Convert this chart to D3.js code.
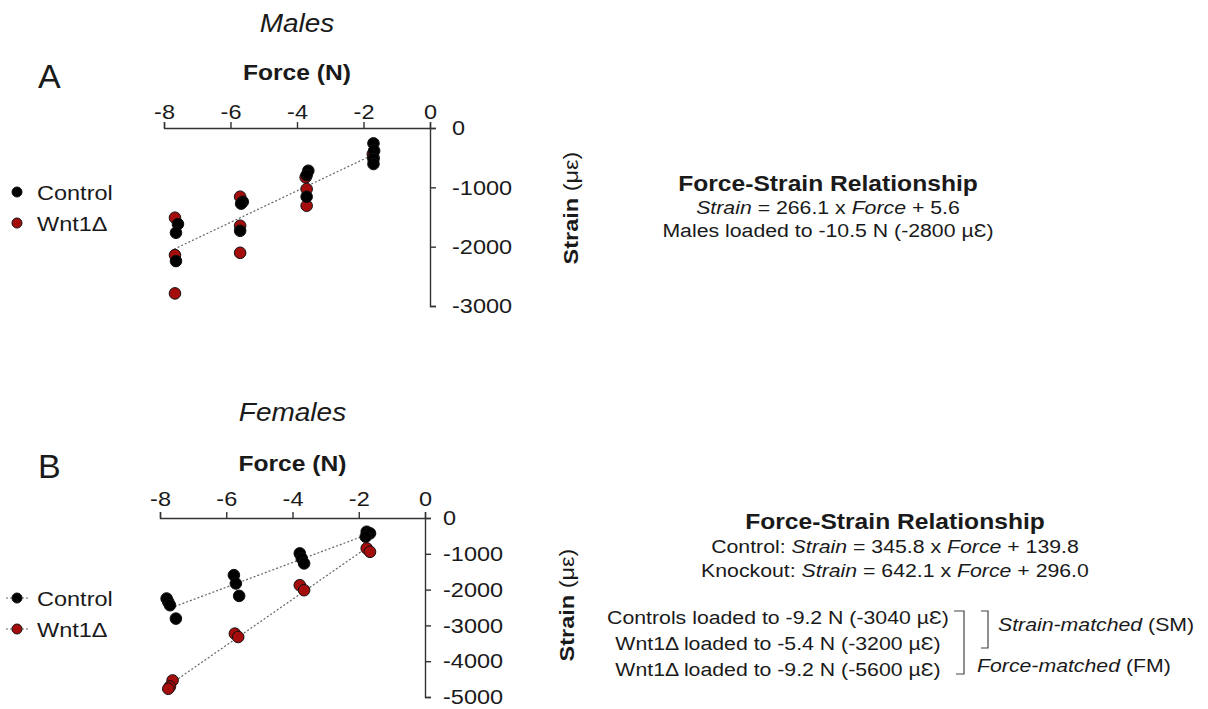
<!DOCTYPE html>
<html>
<head>
<meta charset="utf-8">
<script src="https://cdn.jsdelivr.net/npm/d3@7"></script>
<style>
body { margin: 0; background: #fff; }
text { font-family: "Liberation Sans", Arial, sans-serif; fill: #1a1a1a; }
</style>
</head>
<body>
<script>
// tick labels
const forceTicks = [-8, -6, -4, -2, 0];
const maleStrainTicks = [0, -1000, -2000, -3000];
const femaleStrainTicks = [0, -1000, -2000, -3000, -4000, -5000];

// [force N, strain µε]
const maleControl = [[-7.58,-1619],[-7.64,-1765],[-7.64,-2243],[-5.63,-1243],[-5.68,-1275],[-5.71,-1732],
    [-3.66,-720],[-3.71,-793],[-3.71,-1158],[-1.70,-259],[-1.68,-383],[-1.70,-524],[-1.70,-607]];
const maleWnt = [[-7.67,-1512],[-7.67,-2142],[-7.67,-2788],[-5.71,-1158],[-5.71,-1647],[-5.71,-2103],
    [-3.74,-832],[-3.71,-1029],[-3.71,-1310],[-1.72,-439],[-1.70,-495]];
const maleFit = [[-7.7,-2043],[-1.7,-447]];

const femaleControl = [[-7.80,-2249],[-7.75,-2344],[-7.70,-2437],[-7.52,-2810],[-5.77,-1597],[-5.71,-1830],[-5.61,-2176],
    [-3.78,-989],[-3.72,-1129],[-3.65,-1269],[-1.76,-383],[-1.66,-429],[-1.79,-524]];
const femaleWnt = [[-7.62,-4538],[-7.70,-4706],[-7.75,-4770],[-5.74,-3230],[-5.64,-3324],
    [-3.78,-1877],[-3.65,-2017],[-1.76,-849],[-1.66,-944]];
const femaleControlFit = [[-7.55,-2470],[-1.7,-448]];
const femaleWntFit = [[-7.45,-4488],[-1.7,-796]];

const groups = ["Control", "Wnt1\u0394"];
const colors = {ctrl: "#000000", wnt: "#a50c0c"};

const width = 1208, height = 709;
const SX = 1.12; // text in the figure is a bit wider than Arial

const svg = d3.select("body").append("svg")
    .attr("width", width)
    .attr("height", height)
    .attr("viewBox", [0, 0, width, height]);

// widen text horizontally around its x anchor
function stretch(sel, k) {
    sel.each(function() {
        const t = d3.select(this);
        const x = +t.attr("x") || 0;
        t.attr("transform", `translate(${x * (1 - k)},0) scale(${k},1)`);
    });
}

function rich(x, y, parts, size, anchor, k) {
    const t = svg.append("text")
        .attr("x", x).attr("y", y)
        .attr("font-size", size)
        .attr("text-anchor", anchor || "middle");
    parts.forEach(p => {
        const s = t.append("tspan").text(p[0]);
        if (p[1] == "i") s.attr("font-style", "italic");
        if (p[1] == "b") s.attr("font-weight", "bold");
    });
    stretch(t, k || SX);
    return t;
}

function panel(cfg) {
    const x = d3.scaleLinear().domain([-8, 0]).range(cfg.xr);
    const y = d3.scaleLinear().domain([cfg.ymin, 0]).range(cfg.yr);
    const g = svg.append("g");
    const fmt = d => String(d); // plain hyphen minus like the figure

    const ax = g.append("g")
        .attr("transform", `translate(0,${y(0)})`)
        .call(d3.axisTop(x).tickValues(forceTicks).tickSize(6).tickPadding(cfg.xpad).tickFormat(fmt));
    const ay = g.append("g")
        .attr("transform", `translate(${x(0)},0)`)
        .call(d3.axisRight(y).tickValues(cfg.yticks).tickSize(6).tickPadding(cfg.ypad).tickFormat(fmt));
    [ax, ay].forEach(a => {
        a.attr("font-family", null).attr("font-size", 21).style("color", "#333");
        a.selectAll("path,line").attr("stroke-width", 1.4);
        stretch(a.selectAll("text").attr("fill", "#1a1a1a"), SX);
    });

    const line = d3.line().x(d => x(d[0])).y(d => y(d[1]));
    cfg.fits.forEach(f => {
        g.append("path").attr("d", line(f))
            .attr("fill", "none").attr("stroke", "#666")
            .attr("stroke-width", 1.2).attr("stroke-dasharray", "2,2");
    });

    g.append("g").selectAll("circle")
        .data(cfg.wnt).enter().append("circle")
        .attr("cx", d => x(d[0])).attr("cy", d => y(d[1])).attr("r", 5.8)
        .attr("fill", colors.wnt).attr("stroke", "#111").attr("stroke-width", 1);
    g.append("g").selectAll("circle")
        .data(cfg.ctrl).enter().append("circle")
        .attr("cx", d => x(d[0])).attr("cy", d => y(d[1])).attr("r", 5.8)
        .attr("fill", colors.ctrl).attr("stroke", "#111").attr("stroke-width", 1);

    // titles
    const cx = (cfg.xr[0] + cfg.xr[1]) / 2;
    rich(cx, cfg.titleY, [[cfg.title, "i"]], 25);
    rich(cx, cfg.forceY, [["Force (N)", "b"]], 22);
    svg.append("text").attr("x", 38).attr("y", cfg.letterY).attr("font-size", 34).text(cfg.letter);

    const sl = svg.append("text")
        .attr("text-anchor", "middle").attr("font-size", 21)
        .attr("transform", `translate(${cfg.strainX},${cfg.strainY}) rotate(-90) scale(${SX},1)`);
    sl.append("tspan").attr("font-weight", "bold").text("Strain ");
    sl.append("tspan").text("(\u03bc\u03b5)");

    // legend
    groups.forEach((name, i) => {
        const ly = cfg.legY + i * 31;
        if (cfg.legLine) {
            svg.append("line").attr("x1", 6).attr("x2", 28).attr("y1", ly).attr("y2", ly)
                .attr("stroke", "#666").attr("stroke-width", 1.2).attr("stroke-dasharray", "2,2");
        }
        svg.append("circle").attr("cx", 17).attr("cy", ly).attr("r", 5)
            .attr("fill", i == 0 ? colors.ctrl : colors.wnt).attr("stroke", "#111");
        rich(37, ly + 8, [[name, ""]], 21, "start");
    });
}

panel({
    xr: [164, 430], yr: [306, 128], ymin: -3000, yticks: maleStrainTicks, xpad: 3, ypad: 16,
    ctrl: maleControl, wnt: maleWnt, fits: [maleFit],
    title: "Males", titleY: 32, forceY: 80, letter: "A", letterY: 88,
    strainX: 578, strainY: 208, legY: 192, legLine: false
});
panel({
    xr: [160, 425], yr: [697, 518], ymin: -5000, yticks: femaleStrainTicks, xpad: 6, ypad: 12,
    ctrl: femaleControl, wnt: femaleWnt, fits: [femaleControlFit, femaleWntFit],
    title: "Females", titleY: 421, forceY: 471, letter: "B", letterY: 478,
    strainX: 574, strainY: 605, legY: 598, legLine: true
});

// right-hand notes, panel A
rich(828, 191, [["Force-Strain Relationship", "b"]], 22);
rich(828, 214, [["Strain", "i"], [" = 266.1 x ", ""], ["Force", "i"], [" + 5.6", ""]], 19);
rich(828, 237, [["Males loaded to -10.5 N (-2800 \u00b5\u0190)", ""]], 19);

// right-hand notes, panel B
rich(895, 529, [["Force-Strain Relationship", "b"]], 22);
rich(895, 553, [["Control: ", ""], ["Strain", "i"], [" = 345.8 x ", ""], ["Force", "i"], [" + 139.8", ""]], 19);
rich(895, 577, [["Knockout: ", ""], ["Strain", "i"], [" = 642.1 x ", ""], ["Force", "i"], [" + 296.0", ""]], 19);

const loads = ["Controls loaded to -9.2 N (-3040 \u00b5\u0190)",
               "Wnt1\u0394 loaded to -5.4 N (-3200 \u00b5\u0190)",
               "Wnt1\u0394 loaded to -9.2 N (-5600 \u00b5\u0190)"];
const loadY = [624, 650, 676];
loads.forEach((s, i) => rich(778, loadY[i], [[s, ""]], 19));

const br = svg.append("g").attr("fill", "none").attr("stroke", "#444").attr("stroke-width", 1.2);
br.append("path").attr("d", `M954,${loadY[0] - 13}H964V${loadY[2] - 2}H956`);
br.append("path").attr("d", `M981,${loadY[0] - 13}H988V${loadY[1] - 2}H981`);
rich(998, (loadY[0] + loadY[1]) / 2 - 6, [["Strain-matched", "i"], [" (SM)", ""]], 19, "start");
rich(977, loadY[2] - 4, [["Force-matched", "i"], [" (FM)", ""]], 19, "start");
</script>
</body>
</html>
